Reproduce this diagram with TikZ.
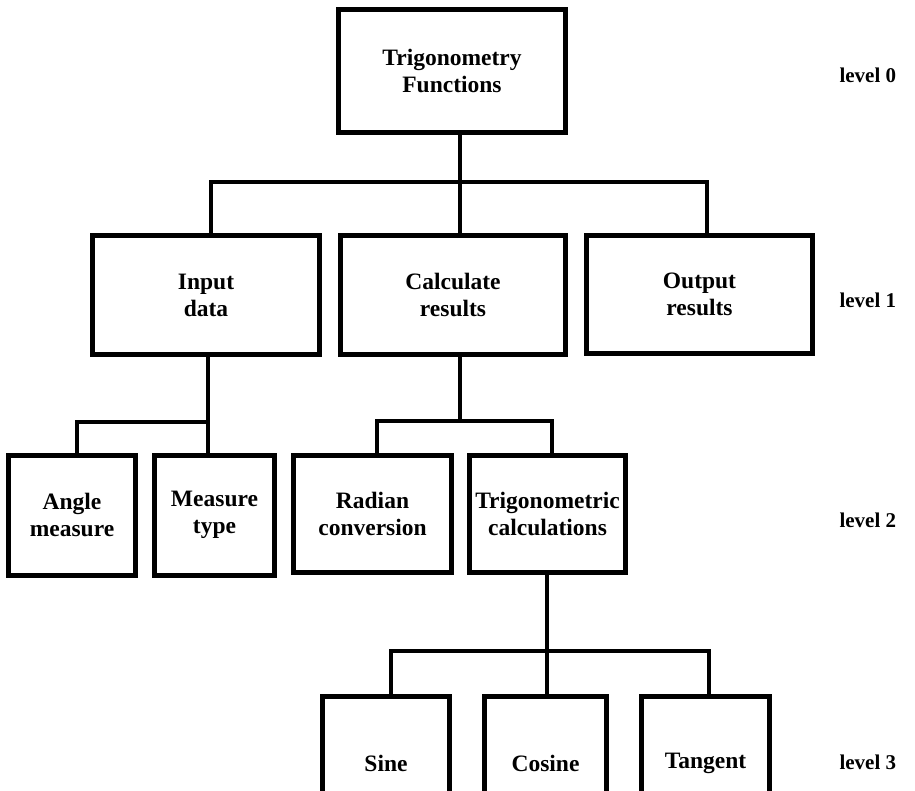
\documentclass[tikz,border=0pt]{standalone}
\usepackage{fontspec}
\setmainfont{Liberation Serif}
\begin{document}
\begin{tikzpicture}[x=1pt,y=-1pt,
  box/.style={draw, line width=5pt, rectangle, align=center, inner sep=2pt,
    font=\bfseries\fontsize{23.5}{27}\selectfont},
  conn/.style={line width=3.5pt, line cap=rect},
  lvl/.style={anchor=west, font=\bfseries\fontsize{21}{25}\selectfont}]
\useasboundingbox (0,0) rectangle (915,790);
\clip (0,0) rectangle (915,790);
% level 0
\node[box, minimum width=227, minimum height=123] (top) at (452,71) {Trigonometry\\Functions};
% level 1
\node[box, minimum width=227, minimum height=119] (input) at (206,295) {Input\\data};
\node[box, minimum width=225, minimum height=119] (calc) at (453,295) {Calculate\\results};
\node[box, minimum width=226, minimum height=118] (output) at (699.5,294) {Output\\results};
% level 2
\node[box, minimum width=127, minimum height=120] (angle) at (72,515) {Angle\\measure};
\node[box, minimum width=120, minimum height=120] (measure) at (214.5,515) {Measure\\type};
\node[box, minimum width=158, minimum height=117] (radian) at (372.5,514) {Radian\\conversion};
\node[box, minimum width=156, minimum height=117] (trig) at (547.5,514) {Trigonometric\\calculations};
% level 3
\node[box, minimum width=127, minimum height=133] (sine) at (386,763) {Sine};
\node[box, minimum width=122, minimum height=133] (cosine) at (545.5,763) {Cosine};
\node[box, minimum width=128, minimum height=133] (tangent) at (705.5,763) {Tangent};
% level labels
\node[lvl] (l0) at (836,75) {level 0};
\node[lvl] (l1) at (836,300) {level 1};
\node[lvl] (l2) at (836,520) {level 2};
\node[lvl] (l3) at (836,762) {level 3};
% bus coordinates
\coordinate (b0) at (460,182);
\coordinate (b1) at (208,422);
\coordinate (b2) at (460,421);
\coordinate (b3) at (547,651);
% connectors level 0 -> 1
\draw[conn] ([xshift=8]top.south) -- ([xshift=7]calc.north);
\draw[conn] ([xshift=5]input.north) |- (b0) -| ([xshift=7.5]output.north);
% input -> level 2
\draw[conn] ([xshift=2]input.south) -- ([xshift=-6.5]measure.north);
\draw[conn] ([xshift=5]angle.north) |- (b1);
% calc -> level 2
\draw[conn] ([xshift=7]calc.south) -- (b2);
\draw[conn] ([xshift=4.5]radian.north) |- (b2) -| ([xshift=4.5]trig.north);
% trig -> level 3
\draw[conn] ([xshift=-0.5]trig.south) -- ([xshift=1.5]cosine.north);
\draw[conn] ([xshift=5]sine.north) |- (b3) -| ([xshift=3.5]tangent.north);
\end{tikzpicture}
\end{document}
